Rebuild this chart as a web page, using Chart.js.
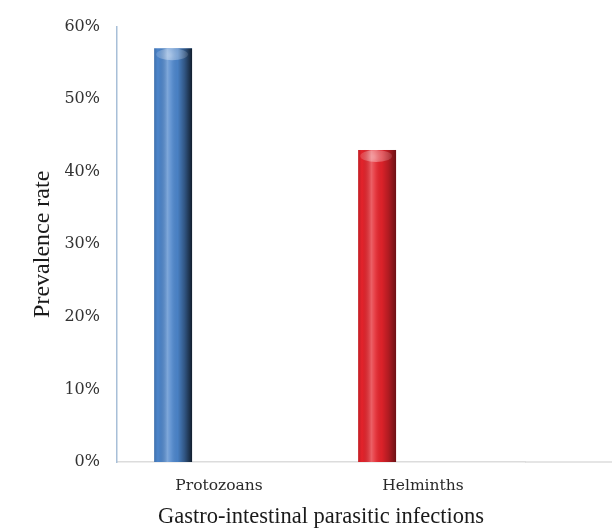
<!DOCTYPE html>
<html>
<head>
<meta charset="utf-8">
<script src="https://cdn.jsdelivr.net/npm/chart.js@4"></script>
<style>
  html, body { margin: 0; padding: 0; background: #ffffff; }
  #wrap { width: 612px; height: 531px; }
</style>
</head>
<body>
<div id="wrap"><canvas id="chart" width="612" height="531"></canvas></div>
<script>
// Prevalence of gastro-intestinal parasitic infections by parasite group
const categories = ['Protozoans', 'Helminths'];
const prevalence = [57, 43];            // percent
const emptySeries = [null, null];       // second (empty) series keeps the clustered slot layout
const yTickValues = [0, 10, 20, 30, 40, 50, 60];
const barColors = ['#4c85cb', '#e4232b'];
const edgeShade = [0.78, 0.52];         // darkness of the right-hand edge per bar

// Cylinder-style shading laid over each bar of the first dataset
const cylinderShade = {
  id: 'cylinderShade',
  afterDatasetDraw(chart, args) {
    if (args.index !== 0) return;
    const ctx = chart.ctx;
    args.meta.data.forEach((bar, i) => {
      const p = bar.getProps(['x', 'y', 'base', 'width'], true);
      const d = edgeShade[i];
      const l = p.x - p.width / 2, r = p.x + p.width / 2;
      const top = Math.min(p.y, p.base), bottom = Math.max(p.y, p.base);
      const g = ctx.createLinearGradient(l, 0, r, 0);
      g.addColorStop(0.00, 'rgba(0,0,0,0.15)');
      g.addColorStop(0.10, 'rgba(0,0,0,0.0)');
      g.addColorStop(0.35, 'rgba(255,255,255,0.28)');
      g.addColorStop(0.45, 'rgba(255,255,255,0.12)');
      g.addColorStop(0.62, 'rgba(0,0,0,0.04)');
      g.addColorStop(0.80, `rgba(0,0,0,${(d * 0.45).toFixed(2)})`);
      g.addColorStop(0.93, `rgba(0,0,0,${(d * 0.8).toFixed(2)})`);
      g.addColorStop(1.00, `rgba(0,0,0,${d})`);
      ctx.save();
      ctx.fillStyle = g;
      ctx.fillRect(l, top, r - l, bottom - top);
      // concave top cap
      ctx.beginPath();
      ctx.ellipse(p.x - 1, top + 6, p.width / 2 - 3, 6, 0, 0, Math.PI * 2);
      const cg = ctx.createRadialGradient(p.x - 3, top + 7, 1, p.x - 1, top + 6, p.width / 2);
      cg.addColorStop(0, 'rgba(255,255,255,0.42)');
      cg.addColorStop(1, 'rgba(255,255,255,0.05)');
      ctx.fillStyle = cg;
      ctx.fill();
      ctx.restore();
    });
  }
};

// The horizontal axis line runs on to the right edge of the canvas
const baselineRun = {
  id: 'baselineRun',
  afterDraw(chart) {
    const x = chart.scales.x;
    const ctx = chart.ctx;
    ctx.save();
    ctx.strokeStyle = '#dcdcdc';
    ctx.lineWidth = 1.5;
    ctx.beginPath();
    ctx.moveTo(chart.chartArea.right, x.top);
    ctx.lineTo(chart.width, x.top);
    ctx.stroke();
    ctx.restore();
  }
};

new Chart(document.getElementById('chart'), {
  type: 'bar',
  data: {
    labels: categories,
    datasets: [
      { label: 'Prevalence rate', data: prevalence, backgroundColor: barColors, borderWidth: 0 },
      { label: 'Series 2', data: emptySeries, backgroundColor: '#999999' }
    ]
  },
  options: {
    responsive: false,
    animation: false,
    events: [],
    layout: { padding: { top: 24, right: 87, left: 0, bottom: 0 } },
    datasets: { bar: { categoryPercentage: 0.9, barPercentage: 0.413 } },
    plugins: { legend: { display: false }, tooltip: { enabled: false } },
    scales: {
      x: {
        grid: { display: false, drawTicks: false },
        border: { display: true, color: '#dcdcdc', width: 1.5 },
        ticks: { padding: 15, color: '#2a2a2a', font: { family: 'DejaVu Serif', size: 15.5 } },
        title: {
          display: true, text: 'Gastro-intestinal parasitic infections',
          color: '#1a1a1a', font: { family: 'Liberation Serif', size: 22.5 },
          padding: { top: 0, bottom: 0 }
        },
        afterFit(scale) { scale.height = 69; }
      },
      y: {
        min: 0, max: 60,
        afterBuildTicks(scale) { scale.ticks = yTickValues.map(v => ({ value: v })); },
        grid: { display: false, drawTicks: false },
        border: { display: true, color: '#a8bfd8', width: 1.5 },
        ticks: { padding: 17, color: '#333333', font: { family: 'DejaVu Serif', size: 16 }, callback: v => v + '%' },
        title: {
          display: true, text: 'Prevalence rate',
          color: '#1a1a1a', font: { family: 'Liberation Serif', size: 24 },
          padding: { top: 28, bottom: 0 }
        },
        afterFit(scale) { scale.width = 117; }
      }
    }
  },
  plugins: [cylinderShade, baselineRun]
});
</script>
</body>
</html>
